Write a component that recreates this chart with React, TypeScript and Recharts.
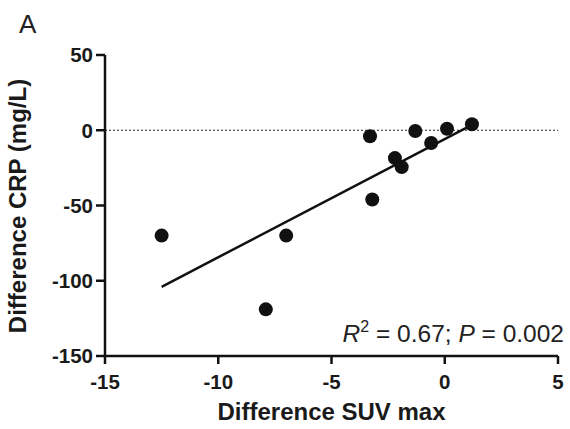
import React from "react";
import {
  ScatterChart,
  Scatter,
  XAxis,
  YAxis,
  ReferenceLine,
} from "recharts";

const suvDiff = [-12.5, -7.9, -7.0, -3.2, -3.3, -2.2, -1.9, -1.3, -0.6, 0.1, 1.2];
const crpDiff = [-70, -119, -70, -46, -4, -18.5, -24.5, -0.5, -8.5, 1, 4];
const xTicks = [-15, -10, -5, 0, 5];
const yTicks = [-150, -100, -50, 0, 50];
const fitStart = { x: -12.5, y: -104 };
const fitEnd = { x: 1.2, y: 3.5 };

const points = suvDiff.map((x, i) => ({ x, y: crpDiff[i] }));

const FONT = "'Liberation Sans', Arial, sans-serif";
const TICK_FS = 20.5;

const Dot = (props: any) => {
  const { cx, cy } = props;
  return <circle cx={cx} cy={cy} r={7} fill="#111" />;
};

const XTick = (props: any) => {
  const { x, y, payload } = props;
  return (
    <text
      x={x}
      y={y + TICK_FS * 0.71}
      textAnchor="middle"
      fontFamily={FONT}
      fontWeight="bold"
      fontSize={TICK_FS}
      fill="#1a1a1a"
    >
      {payload.value}
    </text>
  );
};

const YTick = (props: any) => {
  const { x, y, payload } = props;
  return (
    <text
      x={x}
      y={y + TICK_FS * 0.36}
      textAnchor="end"
      fontFamily={FONT}
      fontWeight="bold"
      fontSize={TICK_FS}
      fill="#1a1a1a"
    >
      {payload.value}
    </text>
  );
};

const YLabel = (props: any) => {
  const vb = props.viewBox || {};
  const cx = 26;
  const cy = (vb.y ?? 55) + (vb.height ?? 300) / 2 + 0.5;
  return (
    <text
      x={cx}
      y={cy}
      transform={`rotate(-90, ${cx}, ${cy})`}
      textAnchor="middle"
      fontFamily={FONT}
      fontWeight="bold"
      fontSize={24}
      fill="#1a1a1a"
    >
      Difference CRP (mg/L)
    </text>
  );
};

export default function App() {
  return (
    <div style={{ position: "relative", width: 570, height: 429, background: "#fff" }}>
      <style>{`body{margin:0}`}</style>
      <ScatterChart
        width={570}
        height={429}
        margin={{ top: 55, right: 12, bottom: 13, left: 0 }}
        style={{ fontFamily: FONT }}
      >
        <XAxis
          type="number"
          dataKey="x"
          domain={[-15, 5]}
          ticks={xTicks}
          height={60}
          axisLine={{ stroke: "#111", strokeWidth: 2.5 }}
          tickLine={{ stroke: "#111", strokeWidth: 2.5 }}
          tickSize={8}
          tickMargin={10}
          tick={<XTick />}
          label={{
            value: "Difference SUV max",
            position: "insideBottom",
            offset: -4,
            fill: "#1a1a1a",
            fontSize: 24,
            fontWeight: "bold",
            fontFamily: FONT,
          }}
        />
        <YAxis
          type="number"
          dataKey="y"
          domain={[-150, 50]}
          ticks={yTicks}
          width={105}
          axisLine={{ stroke: "#111", strokeWidth: 2.5 }}
          tickLine={{ stroke: "#111", strokeWidth: 2.5 }}
          tickSize={9}
          tickMargin={3}
          tick={<YTick />}
          label={{ content: <YLabel /> }}
        />
        <ReferenceLine y={0} stroke="#222" strokeWidth={1.2} strokeDasharray="2 2" />
        <ReferenceLine
          segment={[fitStart, fitEnd]}
          stroke="#111"
          strokeWidth={2.5}
        />
        <Scatter data={points} isAnimationActive={false} shape={<Dot />} />
      </ScatterChart>
      <svg
        width={570}
        height={429}
        style={{ position: "absolute", left: 0, top: 0, pointerEvents: "none" }}
      >
        <text x={19} y={33} fontFamily={FONT} fontSize={26} fill="#222">
          A
        </text>
        <text
          x={564}
          y={342}
          textAnchor="end"
          fontFamily={FONT}
          fontSize={24.5}
          fill="#222"
        >
          <tspan fontStyle="italic">R</tspan>
          <tspan fontSize={16} dy={-10}>2</tspan>
          <tspan dy={10}> = 0.67; </tspan>
          <tspan fontStyle="italic">P</tspan>
          <tspan> = 0.002</tspan>
        </text>
      </svg>
    </div>
  );
}
